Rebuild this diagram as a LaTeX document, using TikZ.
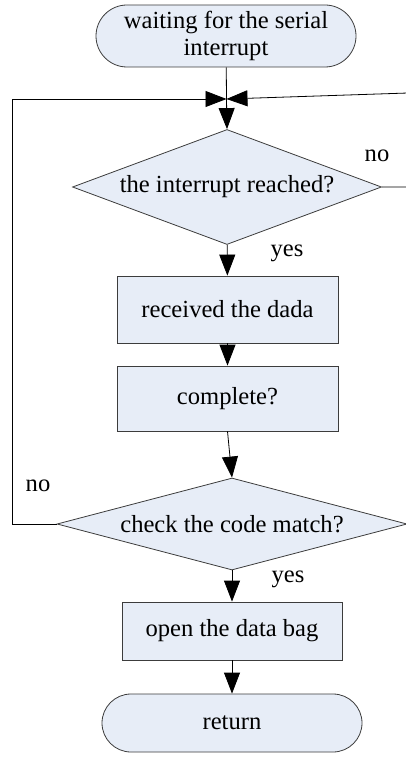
\documentclass[tikz,border=0pt]{standalone}
\usepackage{fontspec}
\setmainfont{Liberation Serif}
\usetikzlibrary{positioning,
        shapes.geometric,
        shapes.misc,
        arrows.meta}
\definecolor{boxblue}{RGB}{231,237,247}
\definecolor{edgegray}{RGB}{60,60,60}

\begin{document}
\begin{tikzpicture}[x=1pt,y=-1pt,line width=0.8pt,
        font=\fontsize{24.6}{27}\selectfont,
        term/.style={rounded rectangle,draw=edgegray,fill=boxblue,inner sep=0pt,align=center},
        stepbox/.style={rectangle,draw=edgegray,fill=boxblue,inner sep=0pt},
        ask/.style={diamond,draw=edgegray,fill=boxblue,inner sep=0pt},
        flow/.style={-{Triangle[length=21pt,width=16pt]}}]
            \useasboundingbox (0,0) rectangle (406,757);
            \node [term,minimum width=260pt,minimum height=62pt] (wait) at (226,36) {waiting for the serial\\interrupt};
            \node [ask,minimum width=309pt,minimum height=115pt,aspect=2.7] (irq) at (227,187) {the interrupt reached?};
            \node [stepbox,minimum width=221pt,minimum height=67pt] (recv) at (227.5,309.5) {received the dada};
            \node [stepbox,minimum width=221pt,minimum height=65pt] (done) at (227.5,398.5) {complete?};
            \node [ask,minimum width=350pt,minimum height=92pt,aspect=3.8] (match) at (232,524) {check the code match?};
            \node [stepbox,minimum width=220pt,minimum height=58pt] (bag) at (232,631) {open the data bag};
            \node [term,minimum width=260pt,minimum height=58pt] (ret) at (232,723) {return};

            \coordinate (join) at (226.5,99);
            \coordinate (rdown) at (408,187);
            \coordinate (rup) at (408,93);
            \coordinate (ldown) at (12,524);
            \coordinate (lup) at (12,99);

            \node (no1) at (377,156) {no};
            \node (yes1) at (287,253) {yes};
            \node (no2) at (38,486) {no};
            \node (yes2) at (288,579) {yes};

            \draw (wait) -- (join);
            \draw [flow] (join) -- (irq.north);
            \draw [flow] (irq) -- (recv);
            \draw [flow] (recv) -- (done);
            \draw [flow] (done.south) -- (match.north);
            \draw [flow] (match) -- (bag);
            \draw [flow] (bag) -- (ret);
            \draw [flow] (irq.east) -- (rdown) -- (rup) -- (join);
            \draw [flow] (match.west) -- (ldown) -- (lup) -- (join);
        \end{tikzpicture}
\end{document}
